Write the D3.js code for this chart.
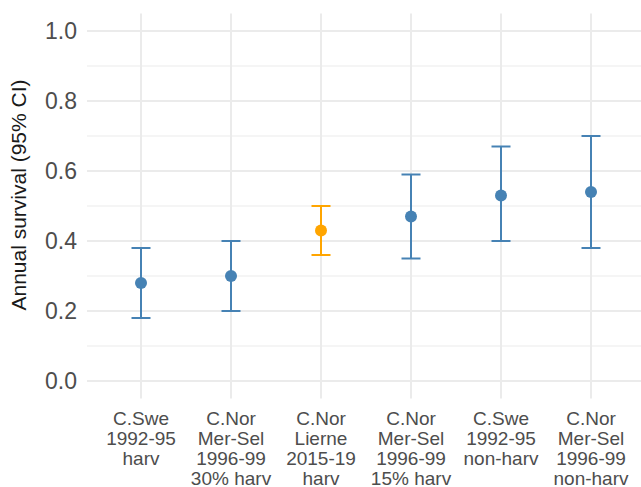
<!DOCTYPE html>
<html>
<head>
<meta charset="utf-8">
<script src="https://cdn.jsdelivr.net/npm/d3@7"></script>
<style>
  body { margin: 0; background: #fff; }
  text { font-family: "Liberation Sans", Arial, sans-serif; }
</style>
</head>
<body>
<div id="chart"></div>
<script>
// Data
const groups = [
    ["C.Swe", "1992-95", "harv"],
    ["C.Nor", "Mer-Sel", "1996-99", "30% harv"],
    ["C.Nor", "Lierne", "2015-19", "harv"],
    ["C.Nor", "Mer-Sel", "1996-99", "15% harv"],
    ["C.Swe", "1992-95", "non-harv"],
    ["C.Nor", "Mer-Sel", "1996-99", "non-harv"]
];
const estimate = [0.28, 0.30, 0.43, 0.47, 0.53, 0.54];
const lowerCI = [0.18, 0.20, 0.36, 0.35, 0.40, 0.38];
const upperCI = [0.38, 0.40, 0.50, 0.59, 0.67, 0.70];
const highlight = [false, false, true, false, false, false];
const yTicks = [0, 0.2, 0.4, 0.6, 0.8, 1.0];
const yMinorTicks = [0.1, 0.3, 0.5, 0.7, 0.9];

const width = 641;
const height = 487;
const panel = { left: 87, right: 645, top: 13.5, bottom: 398.5 };

const svg = d3.select("#chart")
              .append("svg")
              .attr("width", width)
              .attr("height", height);

// discrete x axis with ggplot-style 0.6 expansion
const idx = d3.range(groups.length);
const step = (panel.right - panel.left) / (groups.length - 1 + 1.2);
const xScale = d3.scalePoint()
                 .domain(idx)
                 .range([panel.left + 0.6 * step, panel.right - 0.6 * step]);

const yScale = d3.scaleLinear()
                 .domain([-0.05, 1.05])
                 .range([panel.bottom, panel.top]);

// gridlines
const grid = svg.append("g");
grid.selectAll("line.minor")
    .data(yMinorTicks)
    .enter()
    .append("line")
    .attr("x1", panel.left)
    .attr("x2", panel.right)
    .attr("y1", d => yScale(d))
    .attr("y2", d => yScale(d))
    .attr("stroke", "#ebebeb")
    .attr("stroke-width", 1);

grid.selectAll("line.major")
    .data(yTicks)
    .enter()
    .append("line")
    .attr("x1", panel.left)
    .attr("x2", panel.right)
    .attr("y1", d => yScale(d))
    .attr("y2", d => yScale(d))
    .attr("stroke", "#ebebeb")
    .attr("stroke-width", 2);

grid.selectAll("line.vertical")
    .data(idx)
    .enter()
    .append("line")
    .attr("x1", d => xScale(d))
    .attr("x2", d => xScale(d))
    .attr("y1", panel.top)
    .attr("y2", panel.bottom)
    .attr("stroke", "#ebebeb")
    .attr("stroke-width", 2);

// y axis labels
const yAxis = d3.axisLeft(yScale)
                .tickValues(yTicks)
                .tickFormat(d3.format(".1f"))
                .tickSize(0)
                .tickPadding(10);
const yG = svg.append("g")
              .attr("transform", `translate(${panel.left},0)`)
              .call(yAxis);
yG.select(".domain").remove();
yG.selectAll("text")
  .attr("font-size", 23)
  .attr("fill", "#4d4d4d")
  .style("font-family", "'Liberation Sans', Arial, sans-serif");

// y axis title
svg.append("text")
   .attr("transform", `translate(26,195) rotate(-90)`)
   .attr("text-anchor", "middle")
   .attr("font-size", 21)
   .attr("fill", "#1a1a1a")
   .text("Annual survival (95% CI)");

// x labels (multi-line)
const xLabels = svg.append("g");
idx.forEach(i => {
    const t = xLabels.append("text")
                     .attr("text-anchor", "middle")
                     .attr("font-size", 19)
                     .attr("fill", "#4d4d4d");
    groups[i].forEach((line, k) => {
        t.append("tspan")
         .attr("x", xScale(i))
         .attr("y", 425 + k * 20)
         .text(line);
    });
});

// error bars
const colour = i => highlight[i] ? "#ffa500" : "#4682b4";
const capHalf = 9.5;
const bars = svg.append("g");
bars.selectAll("line.ci")
    .data(idx)
    .enter()
    .append("line")
    .attr("x1", d => xScale(d))
    .attr("x2", d => xScale(d))
    .attr("y1", d => yScale(lowerCI[d]))
    .attr("y2", d => yScale(upperCI[d]))
    .attr("stroke", d => colour(d))
    .attr("stroke-width", 2);

[lowerCI, upperCI].forEach(arr => {
    bars.selectAll(null)
        .data(idx)
        .enter()
        .append("line")
        .attr("x1", d => xScale(d) - capHalf)
        .attr("x2", d => xScale(d) + capHalf)
        .attr("y1", d => yScale(arr[d]))
        .attr("y2", d => yScale(arr[d]))
        .attr("stroke", d => colour(d))
        .attr("stroke-width", 2);
});

bars.selectAll("circle")
    .data(idx)
    .enter()
    .append("circle")
    .attr("cx", d => xScale(d))
    .attr("cy", d => yScale(estimate[d]))
    .attr("r", 6)
    .attr("fill", d => colour(d));
</script>
</body>
</html>
